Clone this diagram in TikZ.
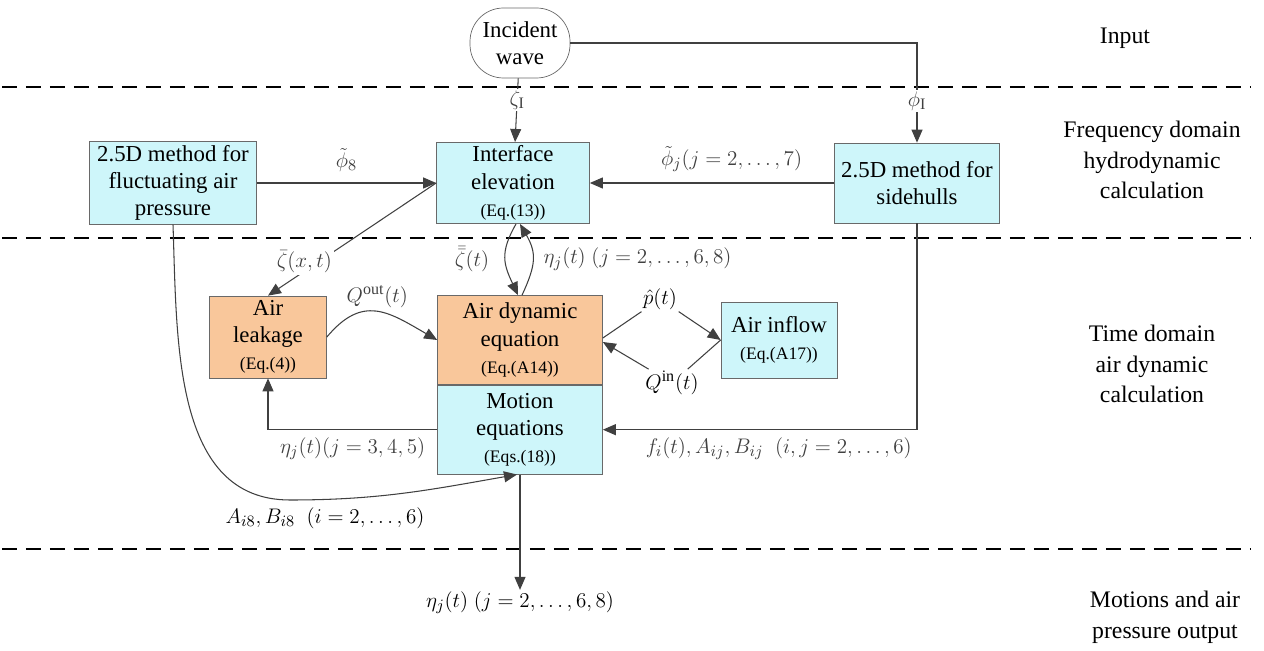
\documentclass[tikz,border=0pt]{standalone}
\usepackage{fontspec}
\setmainfont{LiberationSerif}[Extension=.ttf,UprightFont=*-Regular,BoldFont=*-Bold,ItalicFont=*-Italic,BoldItalicFont=*-BoldItalic]
\usepackage{amsmath}
\usetikzlibrary{arrows.meta,positioning,calc}
\definecolor{BoxCyan}{RGB}{206,246,250}
\definecolor{BoxOrange}{RGB}{249,199,155}
\definecolor{EdgeGray}{RGB}{105,105,105}
\newcommand{\eqsrc}[1]{{\fontsize{10}{12}\selectfont(#1)}}
\tikzset{
  basebox/.style={rectangle,draw=EdgeGray,align=center,
    font=\fontsize{13}{15.5}\selectfont,inner sep=2pt},
  calcbox/.style={basebox,fill=BoxCyan},
  airbox/.style={basebox,fill=BoxOrange},
  wavebox/.style={basebox,rounded corners=19pt,fill=white,
    minimum width=2cm,minimum height=1.4cm},
  arrow/.style={-{Triangle[length=0.26cm,width=0.22cm]},line width=0.6pt,color=black!75},
  lbl/.style={font=\fontsize{13}{15}\selectfont,inner sep=1pt},
  stage/.style={align=center,font=\fontsize{13.5}{17.5}\selectfont},
  divider/.style={dash pattern=on 0.3cm off 0.18cm,line width=0.9pt}
}

\begin{document}
\begin{tikzpicture}[x=0.02cm,y=-0.02cm,node distance=0pt]
  \useasboundingbox (0,0) rectangle (1264,651);
  % stage dividers and names
  \foreach \yy in {87,238,549}
    \draw[divider] (2,\yy) -- (1250,\yy);
  \node[stage] (sIn) at (1125,38) {Input};
  \node[stage] (sFreq) at (1152,160) {Frequency domain\\hydrodynamic\\calculation};
  \node[stage] (sTime) at (1152,364) {Time domain\\air dynamic\\calculation};
  \node[stage] (sOut) at (1165,617) {Motions and air\\pressure output};
  % blocks
  \node[wavebox] (wave) at (520,43) {Incident\\wave};
  \node[calcbox,minimum width=3.06cm,minimum height=1.6cm] (iface) at (513,183)
    {Interface\\elevation\\\eqsrc{Eq.(13)}};
  \node[calcbox,minimum width=3.3cm,minimum height=1.6cm] (side) at (917,183)
    {2.5D method for\\sidehulls};
  \node[calcbox,minimum width=3.34cm,minimum height=1.6cm] (fluct) at (173,183)
    {2.5D method for\\fluctuating air\\pressure};
  \node[airbox,minimum width=2.34cm,minimum height=1.64cm] (leak) at (268,337)
    {Air\\leakage\\\eqsrc{Eq.(4)}};
  \node[airbox,minimum width=3.3cm,minimum height=1.78cm] (adyn) at (520,340)
    {Air dynamic\\equation\\\eqsrc{Eq.(A14)}};
  \node[calcbox,minimum width=3.3cm,minimum height=1.78cm,below=of adyn] (motion)
    {Motion\\equations\\\eqsrc{Eqs.(18)}};
  \node[calcbox,minimum width=2.32cm,minimum height=1.52cm] (inflow) at (779,340)
    {Air inflow\\\eqsrc{Eq.(A17)}};
  \node[lbl] (phat) at (660,299) {$\hat{p}(t)$};
  \node[lbl] (qin) at (672,383) {$Q^{\mathrm{in}}(t)$};
  \node[lbl] (etaout) at (520,603) {$\eta_j(t)\ (j=2,\ldots,6,8)$};
  % connectors
  \draw[arrow] (wave) -- node[lbl,fill=white,pos=0.34]{$\zeta_{\mathrm{I}}$} (iface);
  \draw[arrow] (wave.east) -| node[lbl,fill=white,pos=0.79]{$\phi_{\mathrm{I}}$} (side.north);
  \draw[arrow] (fluct) -- node[lbl,above=5pt]{$\tilde{\phi}_8$} (iface);
  \draw[arrow] (side) -- node[lbl,above=5pt,pos=0.42]{$\tilde{\phi}_j(j=2,\ldots,7)$} (iface);
  \draw[arrow] (iface.west) -- node[lbl,fill=white,pos=0.7,xshift=-8pt]{$\bar{\zeta}(x,t)$} (leak.north);
  \draw[arrow] ($(iface.south)+(3,0)$) to[out=240,in=115,looseness=1.2]
    node[lbl,left=8pt]{$\bar{\bar{\zeta}}(t)$} ($(adyn.north)+(-2,0)$);
  \draw[arrow] ($(adyn.north)+(2,0)$) to[out=65,in=-60,looseness=1.2]
    node[lbl,right=5pt]{$\eta_j(t)\ (j=2,\ldots,6,8)$} ($(iface.south)+(7,0)$);
  \draw[arrow] (leak.east) to[out=50,in=150,looseness=1.3]
    node[lbl,above=1pt]{$Q^{\mathrm{out}}(t)$} (adyn.west);
  \draw[arrow] ($(adyn.east)+(0,-2)$) -- (phat) -- (inflow.west);
  \draw[arrow] (inflow.west) -- (qin) -- ($(adyn.east)+(0,2)$);
  \draw[arrow] (motion.west) -| node[lbl,below=3pt,pos=0.25]{$\eta_j(t)(j=3,4,5)$} (leak.south);
  \draw[arrow] (side.south) |- node[lbl,below=3pt,pos=0.72]{$f_i(t),A_{ij},B_{ij}\ \ (i,j=2,\ldots,6)$} (motion.east);
  \coordinate (bnd) at (290,500);
  \draw[arrow] (fluct.south) to[out=-88,in=180] (bnd) to[out=0,in=-170] ($(motion.south)+(-3,0)$);
  \node[lbl] (about) at (325,518) {$A_{i8},B_{i8}\ \ (i=2,\ldots,6)$};
  \draw[arrow] (motion.south) -- (etaout);
\end{tikzpicture}
\end{document}
